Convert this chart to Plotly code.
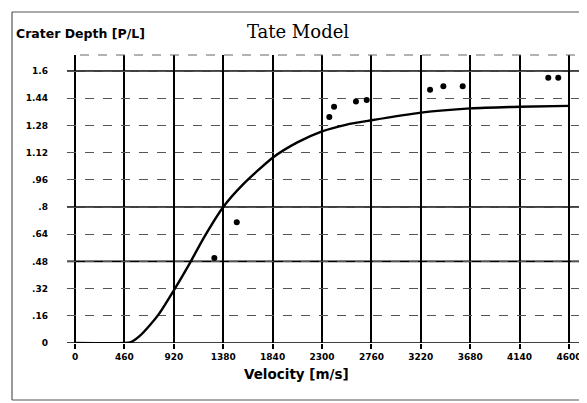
import plotly.graph_objects as go

# Data
x_ticks = [0, 460, 920, 1380, 1840, 2300, 2760, 3220, 3680, 4140, 4600]
x_tick_labels = ["0", "460", "920", "1380", "1840", "2300", "2760", "3220", "3680", "4140", "4600"]
y_ticks = [0, 0.16, 0.32, 0.48, 0.64, 0.8, 0.96, 1.12, 1.28, 1.44, 1.6]
y_tick_labels = ["0", ".16", ".32", ".48", ".64", ".8", ".96", "1.12", "1.28", "1.44", "1.6"]
solid_y_lines = [0, 0.48, 0.8, 1.6]

model_x = [0, 460, 520, 600, 690, 780, 920, 1060, 1200, 1380, 1560, 1840, 2070, 2300, 2530, 2760, 3220, 3680, 4140, 4600]
model_y = [0, 0, 0.005, 0.04, 0.10, 0.17, 0.31, 0.46, 0.62, 0.80, 0.93, 1.09, 1.18, 1.245, 1.285, 1.31, 1.355, 1.38, 1.39, 1.395]

obs_x = [1297, 1506, 2368, 2412, 2616, 2716, 3306, 3430, 3610, 4407, 4500]
obs_y = [0.50, 0.71, 1.33, 1.39, 1.42, 1.43, 1.49, 1.51, 1.51, 1.56, 1.56]

# page has an 8px body margin; work in page pixels and convert
OFF = 8
W, H = 587 - OFF, 403 - OFF
PL, PR, PT, PB = 67, 585, 55, 343   # plot area in page pixels
ML, MR, MT, MB = PL - OFF, W - (PR - OFF), PT - OFF, H - (PB - OFF)
PW = W - ML - MR
PH = H - MT - MB


def px(xp):
    return (xp - PL) / PW


def py(yp):
    return (PB - yp) / PH


fig = go.Figure()
fig.add_trace(go.Scatter(x=model_x, y=model_y, mode="lines",
                         line=dict(color="black", width=2.4, shape="spline", smoothing=0.6),
                         hoverinfo="skip", showlegend=False))
fig.add_trace(go.Scatter(x=obs_x, y=obs_y, mode="markers",
                         marker=dict(color="black", size=6),
                         showlegend=False))

shapes = []
for yv in solid_y_lines:
    shapes.append(dict(type="line", xref="paper", yref="y", x0=0, x1=1, y0=yv, y1=yv,
                       line=dict(color="black", width=1.6), layer="below"))
# top plot edge (dashed) and right edge
shapes.append(dict(type="line", xref="paper", yref="paper", x0=px(80), x1=1, y0=1, y1=1,
                   line=dict(color="#666", width=1, dash="dash")))
shapes.append(dict(type="line", xref="paper", yref="paper", x0=1, x1=1, y0=0, y1=1,
                   line=dict(color="black", width=1.2)))
# outer frame (page pixels 12..587 x 12..400)
frame = dict(color="#555", width=1.2)
shapes.append(dict(type="line", xref="paper", yref="paper", x0=px(12), x1=px(587), y0=py(12), y1=py(12), line=frame))
shapes.append(dict(type="line", xref="paper", yref="paper", x0=px(12), x1=px(12), y0=py(12), y1=py(400), line=frame))
shapes.append(dict(type="line", xref="paper", yref="paper", x0=px(12), x1=px(587), y0=py(400), y1=py(400), line=frame))
fig.update_layout(shapes=shapes)

tick_font = dict(family="DejaVu Sans", size=9, color="black", weight="bold")

fig.update_layout(
    width=W, height=H,
    margin=dict(l=ML, r=MR, t=MT, b=MB, autoexpand=False),
    paper_bgcolor="white", plot_bgcolor="white",
    showlegend=False,
    title=dict(text="Tate Model", x=(298 - OFF) / W, xanchor="center", y=1 - (32 - OFF) / H, yanchor="middle",
               font=dict(family="DejaVu Serif", size=18, color="black")),
    xaxis=dict(range=[-75, 4749], tickmode="array", tickvals=x_ticks, ticktext=x_tick_labels,
               showgrid=True, gridcolor="black", gridwidth=1.5,
               zeroline=False, showline=False, tickfont=tick_font, ticklabeloverflow="allow",
               ticks="outside", ticklen=5, tickcolor="black", tickwidth=1.5),
    yaxis=dict(range=[0, PH / 170.0], tickmode="array", tickvals=y_ticks, ticktext=y_tick_labels,
               showgrid=True, gridcolor="#555", gridwidth=1, griddash="dash",
               zeroline=False, showline=False, ticklabelstandoff=18, tickfont=tick_font),
    annotations=[
        dict(text="<b>Crater Depth [P/L]</b>", xref="paper", yref="paper",
             x=px(14), y=py(33), xanchor="left", yanchor="middle", showarrow=False,
             font=dict(family="DejaVu Sans", size=12.5, color="black")),
        dict(text="<b>Velocity [m/s]</b>", xref="paper", yref="paper",
             x=px(296), y=py(374), xanchor="center", yanchor="middle", showarrow=False,
             font=dict(family="DejaVu Sans", size=13.5, color="black")),
    ],
)

fig.write_html("out.html")
